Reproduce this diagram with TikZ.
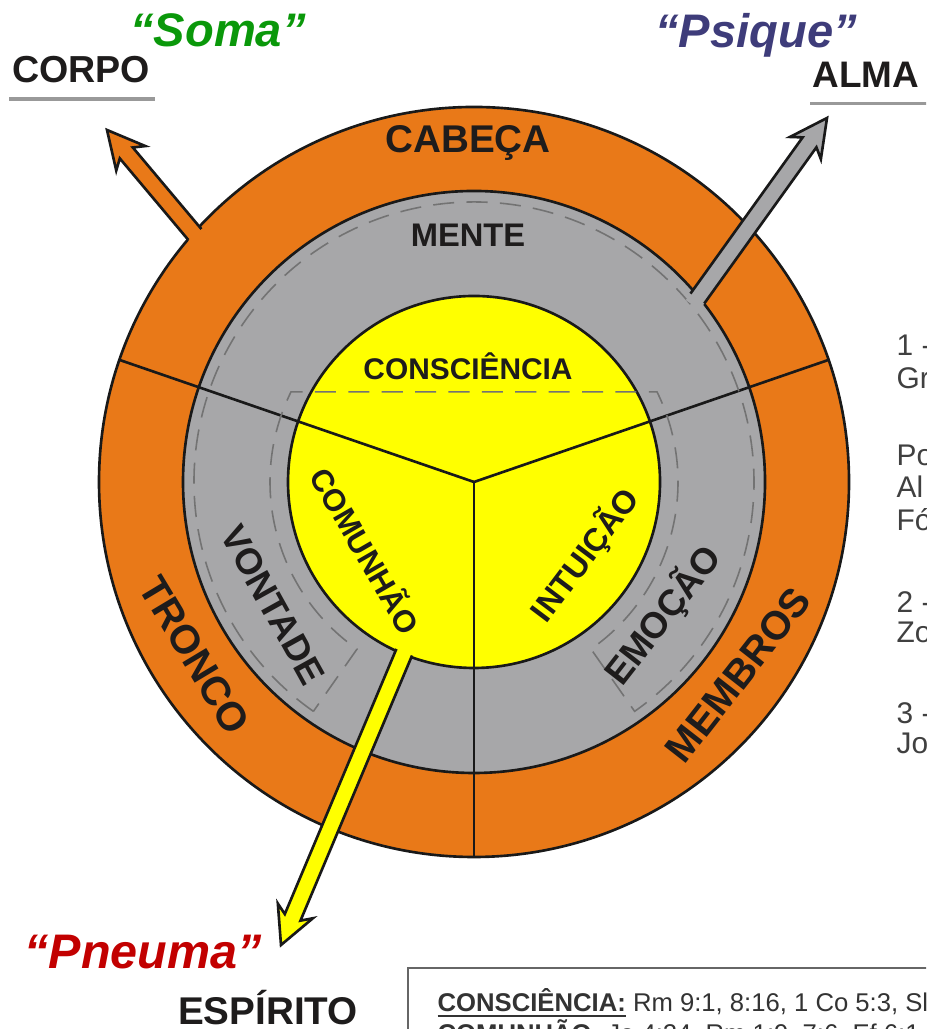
\documentclass[tikz,border=0pt]{standalone}
\usepackage{fontspec}
\setmainfont{Liberation Sans}
\usetikzlibrary{calc}

\definecolor{ringOrange}{RGB}{233,121,24}
\definecolor{ringGray}{RGB}{167,167,169}
\definecolor{ringYellow}{RGB}{255,255,0}
\definecolor{somaGreen}{RGB}{10,152,10}
\definecolor{psiqueBlue}{RGB}{62,60,122}
\definecolor{pneumaRed}{RGB}{194,0,0}
\definecolor{labelInk}{RGB}{30,28,28}

% thick block arrow: #1 fill colour, #2 point on the ring edge, #3 tip
\newcommand{\fatarrow}[3]{%
	\coordinate (fa-s) at ($(#2)!-1mm!(#3)$);
	\coordinate (fa-e) at ($(#2)!-0.2mm!(#3)$);
	\coordinate (fa-n) at ($(#3)!3mm!(#2)$);
	\coordinate (fa-b) at ($(#3)!3.7mm!(#2)$);
	\fill[#1] ($(fa-s)!0.85mm!90:(#3)$) -- ($(fa-n)!0.85mm!90:(#3)$) -- ($(fa-b)!1.9mm!90:(#3)$) -- (#3)
		-- ($(fa-b)!1.9mm!-90:(#3)$) -- ($(fa-n)!0.85mm!-90:(#3)$) -- ($(fa-s)!0.85mm!-90:(#3)$) -- cycle;
	\draw[arrowedge] ($(fa-e)!0.85mm!90:(#3)$) -- ($(fa-n)!0.85mm!90:(#3)$) -- ($(fa-b)!1.9mm!90:(#3)$) -- (#3)
		-- ($(fa-b)!1.9mm!-90:(#3)$) -- ($(fa-n)!0.85mm!-90:(#3)$) -- ($(fa-e)!0.85mm!-90:(#3)$);
}

\tikzset{
	ringedge/.style={draw=black!90, line width=0.75pt},
	arrowedge/.style={draw=black!90, line width=0.75pt},
	soulline/.style={draw=black!55, line width=0.45pt, dash pattern=on 6pt off 3.5pt},
	ringtext/.style={text=labelInk, font=\bfseries\fontsize{#1}{#1}\selectfont},
	greek/.style={font=\bfseries\itshape\fontsize{#1}{#1}\selectfont},
	sidetext/.style={text=black!75, font=\fontsize{8.5}{9}\selectfont, anchor=base west},
	reftext/.style={text=black!80, font=\fontsize{7.3}{7.8}\selectfont, anchor=base west},
	rule/.style={draw=black!40, line width=1pt}
}

\begin{document}
\begin{tikzpicture}[every node/.style={inner sep=0pt}]
	\useasboundingbox (0,0) rectangle (9.26,10.29);
	\clip (0,0) rectangle (9.26,10.29);
	\coordinate (C) at (4.74,5.47);

	% rings
	\filldraw[ringedge, fill=ringOrange] (C) circle (3.75);
	\filldraw[ringedge, fill=ringGray] (C) circle (2.91);
	\filldraw[ringedge, fill=ringYellow] (C) circle (1.86);
	\foreach \a in {161,19,270}
		\draw[ringedge] (C) -- ($(C)+(\a:3.75)$);

	% dashed outline of the soul
	\draw[soulline] ($(C)+(235:2.80)$) arc[start angle=235, end angle=-55, radius=2.80]
		-- ($(C)+(-55:2.04)$) arc[start angle=-55, end angle=26.2, radius=2.04]
		-- ($(C)+(153.8:2.04)$) arc[start angle=153.8, end angle=235, radius=2.04] -- cycle;

	% arrows
	\coordinate (corpoEdge) at ($(C)+(138.4:3.75)$);
	\coordinate (corpoTip) at (1.07,8.99);
	\coordinate (almaEdge) at ($(C)+(39.5:2.91)$);
	\coordinate (almaTip) at (8.27,9.11);
	\coordinate (espiritoEdge) at ($(C)+(247.7:1.86)$);
	\coordinate (espiritoTip) at (2.81,0.84);
	\fatarrow{ringOrange}{corpoEdge}{corpoTip}
	\fatarrow{ringGray}{almaEdge}{almaTip}
	\fatarrow{ringYellow}{espiritoEdge}{espiritoTip}

	% ring labels
	\node[ringtext=11] (cabeca) at (4.68,8.86) {CABEÇA};
	\node[ringtext=9.3] (mente) at (4.68,7.94) {MENTE};
	\node[ringtext=8.5] (consciencia) at (4.68,6.63) {CONSCIÊNCIA};
	\node[ringtext=8.8, rotate=-60] (comunhao) at (3.67,4.79) {COMUNHÃO};
	\node[ringtext=9.2, rotate=53] (intuicao) at (5.85,4.74) {INTUIÇÃO};
	\node[ringtext=10.4, rotate=-61] (vontade) at (2.73,4.24) {VONTADE};
	\node[ringtext=10.4, rotate=52] (emocao) at (6.63,4.14) {EMOÇÃO};
	\node[ringtext=11.5, rotate=-59] (tronco) at (1.95,3.74) {TRONCO};
	\node[ringtext=11.4, rotate=52] (membros) at (7.38,3.54) {MEMBROS};

	% outer labels
	\node[greek=13.4, text=somaGreen] (soma) at (2.18,9.99) {“Soma”};
	\node[ringtext=10.7] (corpo) at (0.81,9.59) {CORPO};
	\draw[rule] ($(corpo.south west)+(-0.02,-0.15)$) -- ($(corpo.south east)+(0.04,-0.15)$);
	\node[greek=13.4, text=psiqueBlue] (psique) at (7.56,9.94) {“Psique”};
	\node[ringtext=10.5, anchor=west] (alma) at (8.12,9.54) {ALMA};
	\draw[rule] ($(alma.south west)+(-0.02,-0.15)$) -- ($(alma.south east)+(0.2,-0.15)$);
	\node[greek=13.8, text=pneumaRed] (pneuma) at (1.43,0.77) {“Pneuma”};
	\node[ringtext=11] (espirito) at (2.68,0.21) {ESPÍRITO};

	% side notes, cut by the edge
	\foreach \ty/\tx in {6.73/1 -, 6.40/Gr, 5.63/Po, 5.31/Al, 4.98/Fó, 4.16/2 -, 3.86/Zo, 3.05/3 -, 2.75/Jo}
		\node[sidetext] at (8.96,\ty) {\tx};

	% reference box
	\filldraw[draw=black!60, line width=0.7pt, fill=white] (4.08,0.61) rectangle (9.6,-0.6);
	\node[reftext] (refa) at (4.37,0.18) {\underline{\textbf{CONSCIÊNCIA:}} Rm 9:1, 8:16, 1 Co 5:3, Sl};
	\node[reftext] (refb) at ([yshift=-0.31cm]refa.base west) {\underline{\textbf{COMUNHÃO:}} Jo 4:24, Rm 1:9, 7:6, Ef 6:1};
\end{tikzpicture}
\end{document}
